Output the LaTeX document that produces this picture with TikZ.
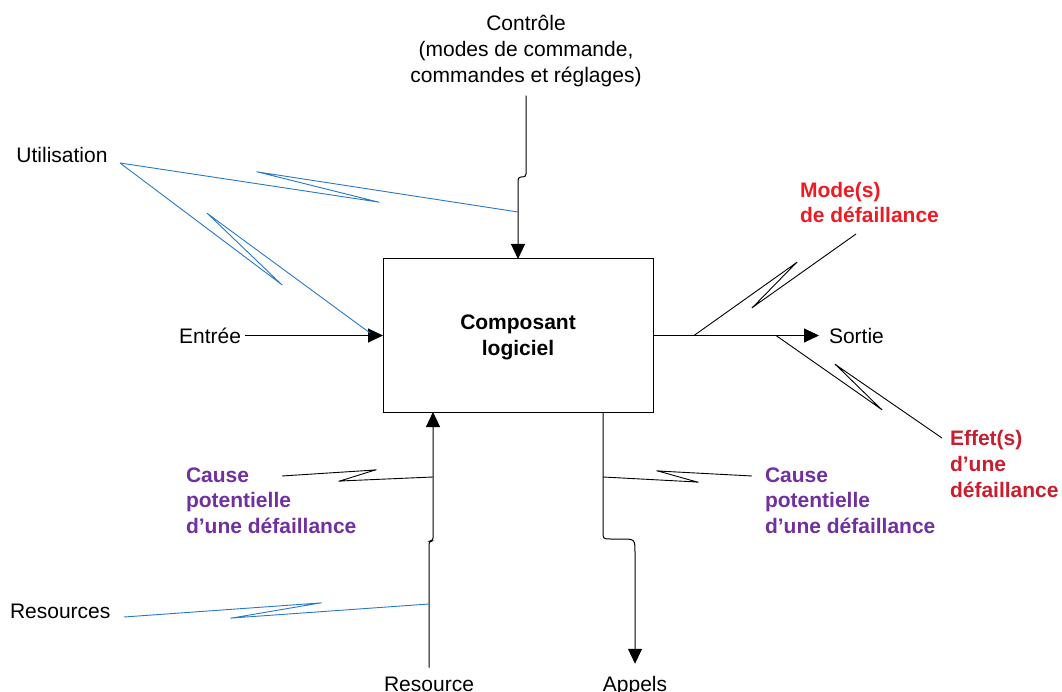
\documentclass[tikz,border=0pt]{standalone}
\usepackage{fontspec}
\setmainfont{Liberation Sans}
\usetikzlibrary{arrows.meta,calc}
\definecolor{callblue}{RGB}{40,120,200}
\definecolor{modered}{RGB}{237,28,36}
\definecolor{effetred}{RGB}{200,30,45}
\definecolor{causepurple}{RGB}{112,48,160}
% lightning-style callout: start, far turn, near turn, end (turns drawn as narrow loops)
\newcommand\boltpath[4]{%
  (#1) -- ($(#2)!7pt!(#1)$) .. controls ($(#2)!-4pt!(#1)$) and ($(#2)!-4pt!(#3)$) .. ($(#2)!7pt!(#3)$)
  -- ($(#3)!7pt!(#2)$) .. controls ($(#3)!-4pt!(#2)$) and ($(#3)!-4pt!(#4)$) .. ($(#3)!7pt!(#4)$)
  -- (#4)}
\begin{document}
\begin{tikzpicture}[x=1pt,y=-1pt,
  lbl/.style={font=\fontsize{21}{26}\selectfont, inner sep=0pt, outer sep=0pt},
  blbl/.style={lbl, font=\fontsize{21}{25.5}\selectfont\bfseries},
  flow/.style={draw=black, line width=1pt},
  arr/.style={flow, -{Triangle[length=15pt,width=14pt]}},
  bolt/.style={line width=0.9pt, line join=round},
  ublue/.style={bolt, draw=callblue},
  ublack/.style={bolt, draw=black},
]
\useasboundingbox (0,0) rectangle (1062,692);

% central block
\node[draw, line width=1pt, minimum width=270pt, minimum height=153pt,
      inner sep=0pt, outer sep=0pt, align=center, text depth=0pt,
      font=\fontsize{21}{26}\selectfont\bfseries] (box) at (518,335.5) {Composant\\logiciel};

% labels
\node[lbl, align=center, anchor=north] (ctrl) at (526,15) {Contrôle\\(modes de commande,\\commandes et réglages)};
\node[lbl, anchor=base] (util) at (62,162.5) {Utilisation};
\node[lbl, anchor=base east] (entree) at (241,343) {Entrée};
\node[lbl, anchor=base west] (sortie) at (829,343) {Sortie};
\node[lbl, anchor=base west] (res) at (10,618.5) {Resources};
\node[lbl, anchor=base] (resource) at (429,691) {Resource};
\node[lbl, anchor=base] (appels) at (635,691) {Appels};
\node[blbl, text=modered, align=left, anchor=north west] (mode) at (800,182) {Mode(s)\\de défaillance};
\node[blbl, text=effetred, align=left, anchor=north west, font=\fontsize{21}{26}\selectfont\bfseries] (effet) at (950,430) {Effet(s)\\d’une\\défaillance};
\node[blbl, text=causepurple, align=left, anchor=north west] (causeL) at (186,467.5) {Cause\\potentielle\\d’une défaillance};
\node[blbl, text=causepurple, align=left, anchor=north west] (causeR) at (765,467.5) {Cause\\potentielle\\d’une défaillance};

% main flows
\draw[arr, rounded corners=3pt] ($(ctrl.south)+(0,9)$) -- (526,177) -- (518,177) -- (box.north);
\draw[arr] ($(entree.east |- box.west)+(4,0)$) -- (box.west);
\draw[arr] (box.east) -- ($(sortie.west |- box.east)+(-10,0)$);
\coordinate (resin) at ($(box.south)+(-85,0)$);
\draw[arr, rounded corners=3pt] ($(resource.north)+(0,-9)$) -- (429,541) -- (433,541) -- (resin);
\coordinate (callout) at ($(box.south)+(85,0)$);
\draw[arr] (callout) -- (603,531) .. controls (603,539) .. (611,539) -- (621,539)
      .. controls (635,539) .. (635,553) -- ($(appels.north)+(0,-12)$);

% callout connectors
\coordinate (uA) at (120,163);
\coordinate (uB) at (518,212);
\draw[ublue] \boltpath{uA}{378,202}{258,172}{uB};
\coordinate (eB) at (370,333);
\draw[ublue] \boltpath{uA}{281,284}{208,214}{eB};
\coordinate (rA) at (124,617);
\coordinate (rB) at (429,604);
\draw[ublue] \boltpath{rA}{320,603}{232,618}{rB};
\coordinate (clA) at (282,476);
\coordinate (clB) at (433,477);
\draw[ublack] \boltpath{clA}{375,470}{340,481}{clB};
\coordinate (crA) at (752,476);
\coordinate (crB) at (603,477);
\draw[ublack] \boltpath{crA}{658,471}{697,482}{crB};
\coordinate (mA) at (856,234);
\coordinate (mB) at (694,335.5);
\draw[ublack] \boltpath{mA}{753,307}{796,263}{mB};
\coordinate (fA) at (942,438);
\coordinate (fB) at (776,335.5);
\draw[ublack] \boltpath{fA}{836,365}{881,409}{fB};
\end{tikzpicture}
\end{document}
